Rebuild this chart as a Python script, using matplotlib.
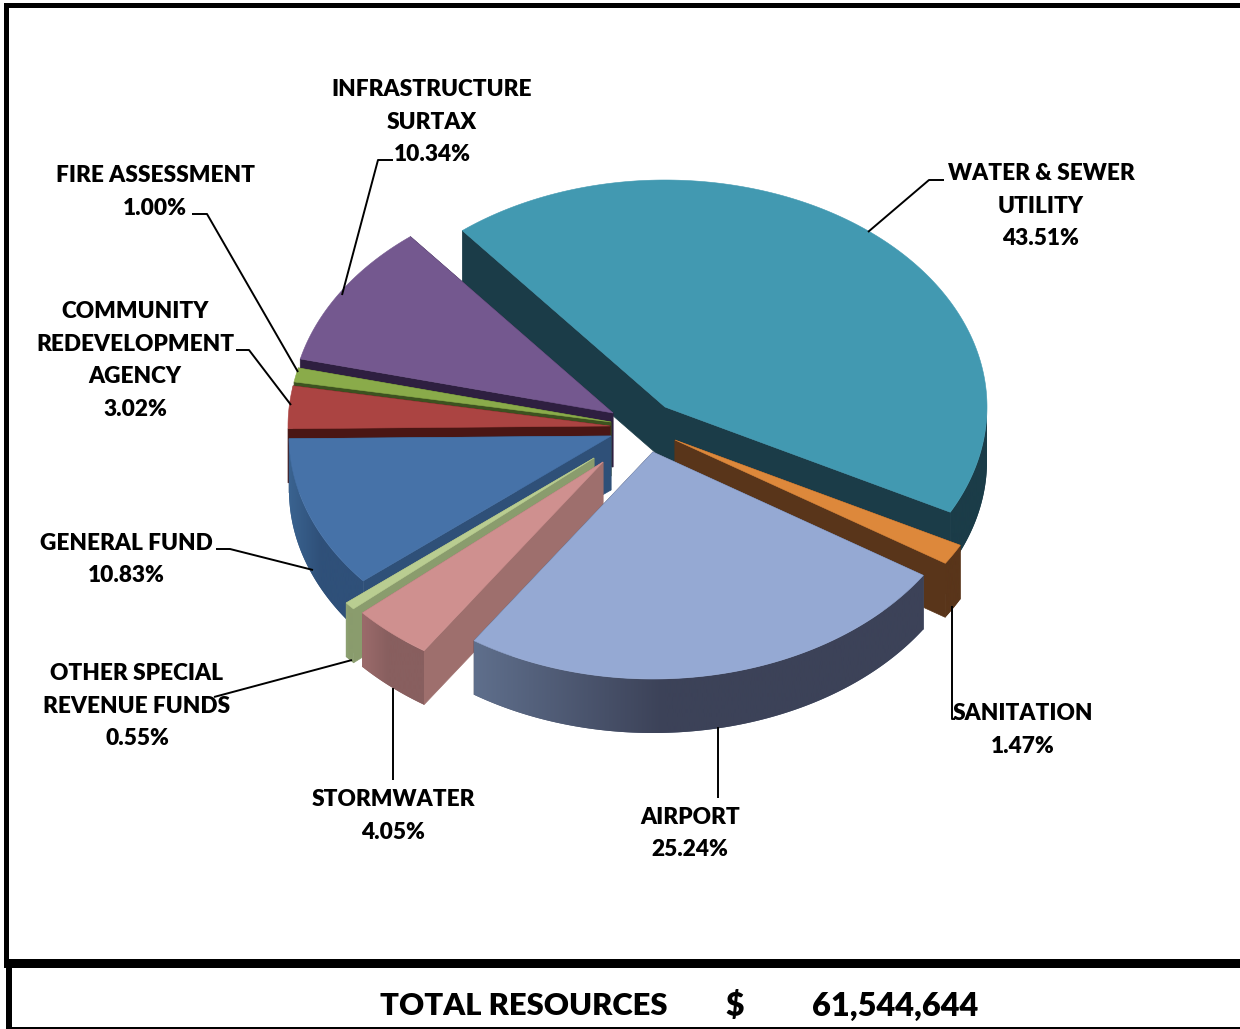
import numpy as np
import matplotlib
matplotlib.use('Agg')
import matplotlib.pyplot as plt
from matplotlib.colors import to_rgb
from matplotlib.patches import Polygon, Rectangle

plt.rcParams['font.family'] = ['Lato', 'DejaVu Sans']

# values, clockwise from the water & sewer slice
names = ['WATER & SEWER\nUTILITY', 'SANITATION', 'AIRPORT', 'STORMWATER',
         'OTHER SPECIAL\nREVENUE FUNDS', 'GENERAL FUND',
         'COMMUNITY\nREDEVELOPMENT\nAGENCY', 'FIRE ASSESSMENT',
         'INFRASTRUCTURE\nSURTAX']
values = [43.51, 1.47, 25.24, 4.05, 0.55, 10.83, 3.02, 1.00, 10.34]
total_label = 'TOTAL RESOURCES'
total_value = '61,544,644'

top_colors = ['#4299b1', '#dd883b', '#95a9d3', '#cf908f', '#b9cd91',
              '#4672a8', '#ab4442', '#8aab4a', '#74588f']
cut_colors = ['#1b3c48', '#59351a', '#3c4258', '#9e6f6d', '#8a9c6d',
              '#2f5078', '#4a1614', '#3d5220', '#2e1f40']
wall_left = ['#1b3c48', '#59351a', '#5f6f8c', '#9c6b6b', '#8fa274',
             '#3a6390', '#4a1614', '#3d5220', '#2e1f40']
wall_right = ['#1b3c48', '#59351a', '#3c4258', '#885f5f', '#8a9c6d',
              '#2f5079', '#4a1614', '#3d5220', '#2e1f40']

# pie geometry in picture pixels
apex = [(665, 407), (675, 440), (653, 452), (603, 462), (594, 458),
        (611, 436), (610, 426), (611, 422), (613, 413)]
rx, ry = 322, 227
depth = 54
start_angle = 129
draw_order = [0, 8, 7, 6, 5, 4, 3, 1, 2]

# label centre x, first line y, leader line points
label_pos = [(1041, 174), (1023, 714), (690, 817), (393, 800), (137, 674),
             (126, 543), (135, 312), (155, 176), (432, 90)]
leaders = [[(944, 180), (929, 180), (868, 232)],
           [(952, 606), (952, 719), (955, 719)],
           [(718, 727), (718, 798)],
           [(393, 688), (393, 780)],
           [(214, 697), (352, 660)],
           [(216, 549), (230, 549), (313, 570)],
           [(236, 350), (249, 350), (291, 405)],
           [(192, 214), (207, 214), (298, 372)],
           [(393, 160), (378, 160), (342, 295)]]
line_step = 32.4
label_weight = 800


def rim(center, t):
    t = np.radians(t)
    return center[0] + rx * np.cos(t), center[1] - ry * np.sin(t)


def draw_slice(ax, i, t0, t1, z):
    c = apex[i]
    ts = np.linspace(t0, t1, max(int(abs(t1 - t0) * 3), 2))
    pts = [rim(c, t) for t in ts]

    # cut faces first, the top covers whatever is hidden
    for p in (pts[0], pts[-1]):
        ax.add_patch(Polygon([c, p, (p[0], p[1] + depth), (c[0], c[1] + depth)],
                             fc=cut_colors[i], ec=cut_colors[i], lw=0.5, zorder=z))

    # outer wall, only the part that faces the viewer
    vis = [p for p, t in zip(pts, ts) if np.sin(np.radians(t)) <= 0.01]
    if len(vis) > 1:
        vis = sorted(vis)
        x0, x1 = vis[0][0], vis[-1][0]
        left = np.array(to_rgb(wall_left[i]))
        right = np.array(to_rgb(wall_right[i]))
        outline = vis + [(x, y + depth) for x, y in vis[::-1]]
        # solid underlay so the clipped gradient leaves no seam
        ax.add_patch(Polygon(outline, fc=(left + right) / 2, ec='none', zorder=z + 0.05))
        # gradient runs across the slice and is done a bit before the middle
        k = np.clip(np.linspace(0, 1, 256) / 0.42, 0, 1)[:, None]
        grad = (left + (right - left) * k)[None, :, :]
        wall = Polygon(outline, fc='none', ec='none', zorder=z + 0.1)
        ax.add_patch(wall)
        im = ax.imshow(grad, extent=(x0, x1, 1029, 0), aspect='auto', zorder=z + 0.1,
                       interpolation='bilinear')
        im.set_clip_path(wall)

    ax.add_patch(Polygon([c] + pts, fc=top_colors[i], ec=top_colors[i], lw=0.4, zorder=z + 0.2))


fig = plt.figure(figsize=(12.4, 10.29), dpi=100)
ax = fig.add_axes([0, 0, 1, 1])

# slice angles come from the values
spans = np.array(values) / sum(values) * 360
ends = start_angle - np.cumsum(spans)
starts = ends + spans
for z, i in enumerate(draw_order):
    draw_slice(ax, i, starts[i], ends[i], z + 1)

ax.set_xlim(0, 1240)
ax.set_ylim(1029, 0)
ax.axis('off')

for line in leaders:
    xs, ys = zip(*line)
    ax.plot(xs, ys, color='black', lw=1.4, solid_capstyle='butt', zorder=20)

for name, val, (x, y) in zip(names, values, label_pos):
    rows = name.split('\n') + [f'{val:.2f}%']
    for n, row in enumerate(rows):
        ax.text(x, y + n * line_step, row, ha='center', va='center',
                fontsize=16.3, fontweight=label_weight, color='black', zorder=21)

# frame
frame = [(4, 3, 1236, 5), (4, 3, 5, 960), (4, 959, 1236, 9), (6, 963, 6, 66), (6, 1027, 1234, 1.5)]
for x, y, w, h in frame:
    ax.add_patch(Rectangle((x, y), w, h, fc='black', ec='none', zorder=22))

ax.text(380, 1006, total_label, ha='left', va='center', fontsize=22.3, fontweight=label_weight, zorder=23)
ax.text(735, 1006, '$', ha='center', va='center', fontsize=23, fontweight=label_weight, zorder=23)
ax.text(978, 1006, total_value, ha='right', va='center', fontsize=23.4, fontweight=label_weight, zorder=23)

fig.savefig('out.png', dpi=100)
